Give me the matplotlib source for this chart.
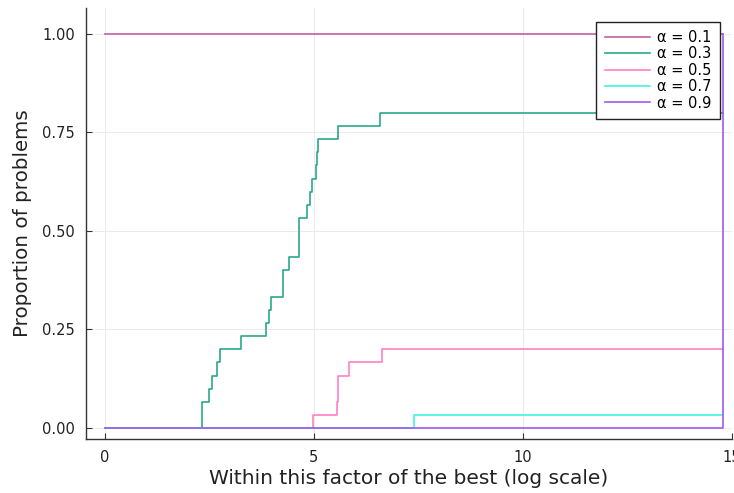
import matplotlib
matplotlib.use("Agg")
import matplotlib.pyplot as plt

# performance profile data (x = log2 ratio, y = proportion of problems)
labels = ["α = 0.1", "α = 0.3", "α = 0.5", "α = 0.7", "α = 0.9"]
colors = ["#c0609f", "#2aa98a", "#ff80c4", "#40f5e0", "#a05ae8"]

x_a01 = [0.0, 14.79]
y_a01 = [1.0, 1.0]

x_a03 = [0.0, 2.33, 2.50, 2.57, 2.69, 2.77, 3.25, 3.87, 3.93, 3.97, 4.27,
         4.41, 4.64, 4.85, 4.92, 4.96, 5.05, 5.08, 5.10, 5.57, 6.59, 14.79]
y_a03 = [0.0, 0.067, 0.1, 0.133, 0.167, 0.2, 0.233, 0.267, 0.3, 0.333, 0.4,
         0.433, 0.533, 0.567, 0.6, 0.633, 0.667, 0.7, 0.733, 0.767, 0.8, 0.8]

x_a05 = [0.0, 4.98, 5.55, 5.59, 5.84, 6.63, 14.79]
y_a05 = [0.0, 0.033, 0.067, 0.133, 0.167, 0.2, 0.2]

x_a07 = [0.0, 7.41, 14.79]
y_a07 = [0.0, 0.033, 0.033]

x_a09 = [0.0, 14.79]
y_a09 = [0.0, 1.0]

series = [(x_a01, y_a01), (x_a03, y_a03), (x_a05, y_a05), (x_a07, y_a07), (x_a09, y_a09)]

x_ticks = [0, 5, 10, 15]
y_ticks = [0.0, 0.25, 0.5, 0.75, 1.0]
y_ticklabels = ["0.00", "0.25", "0.50", "0.75", "1.00"]

fig = plt.figure(figsize=(7.34, 4.93), dpi=100)
ax = fig.add_axes([0.117, 0.1095, 0.88, 0.8745])

for (xs, ys), lab, c in zip(series, labels, colors):
    ax.step(xs, ys, where="post", color=c, lw=1.2, label=lab)

ax.set_xlim(-0.45, 15.0)
ax.set_ylim(-0.028, 1.066)
ax.set_xticks(x_ticks)
ax.set_yticks(y_ticks)
ax.set_yticklabels(y_ticklabels)
ax.grid(True, color="#ebebeb", lw=0.7)
ax.set_axisbelow(True)

for side in ["top", "right"]:
    ax.spines[side].set_visible(False)
for side in ["left", "bottom"]:
    ax.spines[side].set_color("#333333")
    ax.spines[side].set_linewidth(1.0)
ax.tick_params(direction="in", length=4, width=0.8, colors="#333333",
               labelsize=10.5, labelcolor="#222222", pad=8)

ax.set_xlabel("Within this factor of the best (log scale)", fontsize=14.5, color="#222222", labelpad=3)
ax.set_ylabel("Proportion of problems", fontsize=14.3, color="#222222", labelpad=7)

leg = ax.legend(loc="upper right", bbox_to_anchor=(0.981, 0.968), fontsize=10.5,
                fancybox=False, framealpha=1.0, edgecolor="#222222",
                handlelength=3.1, handletextpad=0.5, labelspacing=0.1,
                borderpad=0.55, borderaxespad=0.0)
leg.get_frame().set_linewidth(1.0)

fig.savefig("out.png", dpi=100)
